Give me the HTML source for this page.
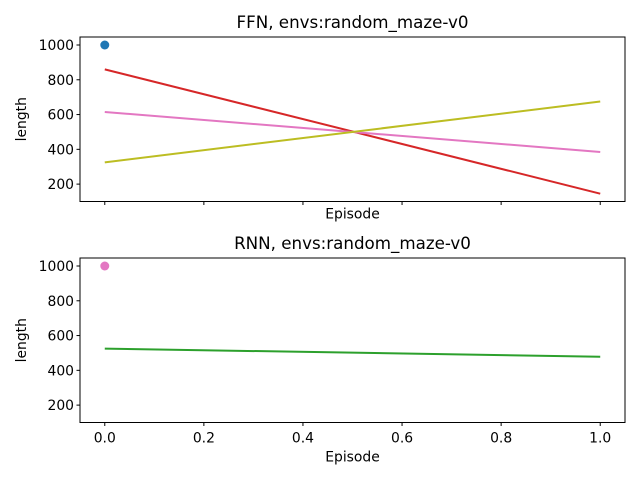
<!DOCTYPE html>
<html><head><meta charset="utf-8"><style>
body{margin:0;background:#fff}
text{font-family:"DejaVu Sans","Liberation Sans",sans-serif;fill:#000}
</style></head><body>
<svg id="c" width="640" height="480" xmlns="http://www.w3.org/2000/svg"></svg>
<script>
const xTicks=[0,0.2,0.4,0.6,0.8,1.0];
const xTickLabels=["0.0","0.2","0.4","0.6","0.8","1.0"];
const yTicks=[200,400,600,800,1000];
const ffnLineStart=[860,615,325];
const ffnLineEnd=[145,385,675];
const ffnLineColors=["#d62728","#e377c2","#bcbd22"];
const ffnPoint=[0,1000];
const rnnLineStart=[525];
const rnnLineEnd=[478];
const rnnLineColors=["#2ca02c"];
const rnnPoint=[0,1000];
const titles=["FFN, envs:random_maze-v0","RNN, envs:random_maze-v0"];

const svg=document.getElementById('c');
const NS="http://www.w3.org/2000/svg";
function mk(t,a,p){const e=document.createElementNS(NS,t);for(const k in a)e.setAttribute(k,a[k]);(p||svg).appendChild(e);return e;}
const L=80,R=625,x0=-0.05,x1=1.05,y0=100,y1=1046;
function sx(v){return L+(v-x0)/(x1-x0)*(R-L);}
function panel(top,bot,idx,starts,ends,colors,pt,ptColor,showX){
  const g=mk('g',{});
  
  
  const sy=v=>bot-(v-y0)/(y1-y0)*(bot-top);
  starts.forEach((s,i)=>{
    const l=mk('line',{x1:sx(0),y1:sy(s),x2:sx(1),y2:sy(ends[i]),stroke:colors[i],'stroke-width':2},g);
    
    
  });
  const c=mk('circle',{cx:sx(pt[0]),cy:sy(pt[1]),r:4.5,fill:ptColor},g);
  
  
  mk('rect',{x:L,y:top,width:R-L,height:bot-top,fill:'none',stroke:'#000','stroke-width':1},g);
  yTicks.forEach(v=>{
    mk('line',{x1:L-3.5,x2:L,y1:sy(v),y2:sy(v),stroke:'#000'},g);
    const t=mk('text',{x:L-6,y:sy(v)+5,'text-anchor':'end','font-size':'13.9px'},g);t.textContent=v;
    
    
  });
  xTicks.forEach((v,i)=>{
    mk('line',{x1:sx(v),x2:sx(v),y1:bot,y2:bot+3.5,stroke:'#000'},g);
    if(showX){const t=mk('text',{x:sx(v),y:bot+20,'text-anchor':'middle','font-size':'13.9px'},g);t.textContent=xTickLabels[i];
      
      }
  });
  const ti=mk('text',{x:(L+R)/2,y:top-9,'text-anchor':'middle','font-size':'16.7px'},g);ti.textContent=titles[idx];
  
  
  const yl=mk('text',{x:0,y:0,'text-anchor':'middle','font-size':'13.9px',transform:`translate(26,${(top+bot)/2}) rotate(-90)`},g);yl.textContent='length';
  
  
  const xl=mk('text',{x:(L+R)/2,y:showX?bot+39:bot+17,'text-anchor':'middle','font-size':'13.9px'},g);xl.textContent='Episode';
  
  
}
panel(37,201.5,0,ffnLineStart,ffnLineEnd,ffnLineColors,ffnPoint,'#1f77b4',false);
panel(258,422.5,1,rnnLineStart,rnnLineEnd,rnnLineColors,rnnPoint,'#e377c2',true);
</script>
</body></html>
